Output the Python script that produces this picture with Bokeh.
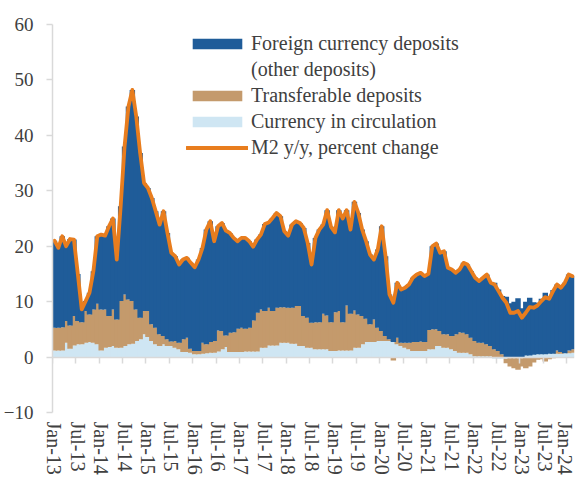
import numpy as np
from bokeh.plotting import figure
from bokeh.models import (LinearAxis, FixedTicker, Legend, LegendItem, Label,
                          Range1d, CustomJSTickFormatter)
from bokeh.embed import file_html
from bokeh.resources import INLINE

# ---------------- data (monthly, Jan-2013 .. Feb-2024) ----------------
tick_labels = ["Jan-13", "Jul-13", "Jan-14", "Jul-14", "Jan-15", "Jul-15", "Jan-16", "Jul-16",
               "Jan-17", "Jul-17", "Jan-18", "Jul-18", "Jan-19", "Jul-19", "Jan-20", "Jul-20",
               "Jan-21", "Jul-21", "Jan-22", "Jul-22", "Jan-23", "Jul-23", "Jan-24"]

currency = [1.2, 1.2, 1.2, 2.6, 1.5, 2.1, 2.3, 2.3, 2.6, 2.7, 2.6, 2.3, 1.2, 1.7, 1.8, 2.0, 1.7, 1.7, 2.0, 2.3,
            2.4, 2.9, 3.2, 4.1, 3.6, 2.9, 2.3, 2.0, 2.3, 2.0, 2.0, 1.7, 1.4,
            0.9, 0.9, 0.8, 0.5, 0.5, 0.6, 0.7, 0.8, 0.8, 1.0, 1.4, 1.8, 0.9, 0.9, 0.9, 0.9, 1.0, 1.0, 1.0, 1.0,
            1.7, 1.7, 2.1, 2.1, 2.1, 2.6, 2.6, 2.6, 2.4, 2.4, 2.0, 2.0,
            1.7, 1.7, 1.4, 1.4, 1.4, 1.4, 1.1, 1.1, 1.2, 1.2, 1.2, 1.2, 1.7, 1.7, 2.3, 2.7, 2.7, 2.7, 2.9, 2.9,
            2.9, 2.9, 2.7, 2.3, 2.0, 1.7, 1.4, 1.1, 1.1, 1.1, 1.1, 1.4, 1.4, 2.0,
            2.0, 1.7, 1.7, 1.4, 1.1, 0.8, 0.8, 0.8, 0.5, 0.15, 0.15, 0.15, 0.15, 0.15, -0.3, -0.3, -0.3, -0.3,
            -0.2, -0.2, -0.2, -0.2, 0.3, 0.3, 0.4, 0.5, 0.5, 0.5, 0.6, 0.6, 0.6, 0.6, 0.7, 0.7, 0.8]

transferable = [4.1, 4.1, 4.2, 3.9, 4.2, 5.3, 4.2, 4.0, 5.7, 5.0, 6.0, 7.3, 7.4, 6.9, 5.6, 6.6, 5.1, 8.4, 9.3, 8.1,
                7.7, 5.7, 3.9, 4.2, 4.7, 3.0, 3.0, 2.1, 1.5, 1.2, 0.8, 1.2, 1.2,
                2.3, 2.6, 0.7, 0.6, 0.6, 2.0, 1.6, 1.9, 2.1, 3.8, 3.3, 2.1, 3.5, 3.6, 4.2, 4.4, 4.1, 4.3, 5.6, 7.0,
                6.9, 6.6, 6.8, 6.2, 6.8, 6.4, 6.4, 6.3, 6.5, 6.8, 7.2, 5.4,
                5.4, 4.5, 4.9, 4.9, 6.4, 6.1, 5.2, 7.0, 7.1, 5.1, 8.1, 6.6, 6.7, 6.0, 5.1, 4.2, 3.2, 4.1, 2.4, 1.8,
                0.9, 0.3, -0.6, 1.2, 0.6, 0.9, 1.2, 1.6, 1.6, 1.7, 1.6, 3.5, 3.6, 3.0,
                2.7, 2.4, 2.4, 2.4, 3.0, 3.7, 3.6, 3.3, 3.0, 2.75, 2.45, 2.45, 2.15, 1.85, 1.4, 1.1, 0.5, -0.8,
                -1.5, -1.8, -2.1, -1.5, -2.0, -1.7, -1.0, -0.5, -0.4, -0.8, -0.4, -0.2, 0.6, 0.3, 0.0, 0.5, 0.6]

foreign = [15.7, 14.4, 16.4, 13.5, 15.6, 13.8, 8.5, 2.3, 1.8, 3.9, 6.9, 12.2, 13.5, 13.3, 16.2, 16.4, 10.8, 17.1,
           26.7, 34.8, 38.1, 34.8, 29.7, 23.1, 22.2, 22.8, 21.0, 19.8, 22.5, 19.2, 16.0, 15.3, 14.1,
           14.4, 14.4, 15.5, 15.1, 16.5, 17.1, 20.7, 21.8, 18.0, 18.8, 19.5, 18.9, 18.0, 17.0, 15.8, 16.2,
           16.4, 15.6, 13.3, 13.2, 13.5, 15.7, 15.4, 16.8, 17.1, 16.4, 13.7, 13.0, 15.0, 15.3, 15.0, 15.9,
           13.5, 10.5, 15.2, 16.7, 16.1, 19.0, 17.2, 14.4, 18.2, 18.7, 17.2, 15.2, 19.6, 18.3, 15.6, 14.0,
           12.6, 10.8, 14.1, 18.9, 14.4, 8.1, 7.7, 9.9, 9.6, 9.9, 10.5, 11.6, 12.2, 12.4, 11.9, 10.1, 15.0, 15.5,
           14.1, 15.0, 12.0, 12.0, 11.1, 11.3, 12.6, 12.6, 12.0, 11.4, 11.1, 11.7, 12.6, 11.4, 12.0, 11.1,
           10.5, 10.9, 9.7, 10.0, 10.6, 8.8, 9.7, 10.4, 9.5, 9.3, 10.0, 11.1, 10.3, 11.5, 11.9, 11.6, 12.7,
           13.7, 13.2]

m2 = [21.0, 19.7, 21.8, 20.0, 21.3, 21.2, 15.0, 8.6, 10.1, 11.6, 15.5, 21.8, 22.1, 21.9, 23.6, 25.0, 17.6, 27.2,
      38.0, 45.2, 48.2, 43.4, 36.8, 31.4, 30.5, 28.7, 26.3, 23.9, 26.3, 22.4, 18.8, 18.2, 16.7,
      17.6, 17.9, 17.0, 16.2, 17.6, 19.7, 23.0, 24.5, 20.9, 23.6, 24.2, 22.8, 22.4, 21.5, 20.9, 21.5,
      21.5, 20.9, 19.9, 21.2, 22.1, 24.0, 24.3, 25.1, 26.0, 25.4, 22.7, 21.9, 23.9, 24.5, 24.2, 23.3,
      20.6, 16.7, 21.5, 23.0, 23.9, 26.5, 23.5, 22.5, 26.5, 25.0, 26.5, 23.0, 28.0, 26.0, 23.0, 20.9,
      18.5, 17.6, 19.4, 23.6, 18.2, 11.3, 9.8, 13.4, 12.2, 12.5, 13.1, 14.3, 14.9, 15.2, 14.6, 15.0, 20.0, 20.5,
      18.8, 19.1, 16.1, 15.8, 15.2, 15.8, 17.0, 16.7, 15.5, 14.3, 13.7, 14.3, 14.9, 13.4, 13.1, 11.9,
      10.7, 9.8, 8.0, 8.0, 8.3, 7.1, 8.0, 9.0, 8.9, 9.3, 10.1, 10.8, 10.5, 11.9, 13.1, 12.5, 13.4, 14.9, 14.6]

# ---------------- styling ----------------
FONT = "Liberation Serif"
TXT = "#404040"
AXC = "#d9d9d9"
C_FX, C_TR, C_CU, C_M2 = "#1f5c99", "#c49a6c", "#cfe6f3", "#e87d1e"

n = len(m2)
idx = np.arange(n)

p = figure(width=575, height=477, output_backend="svg", toolbar_location=None,
           x_range=Range1d(-0.5, n - 0.5), y_range=Range1d(-10, 60),
           min_border_left=52, min_border_right=1, min_border_top=24, min_border_bottom=64,
           x_axis_location=None, y_axis_location=None)
p.outline_line_color = None
p.grid.visible = False
p.background_fill_color = "white"

# stacked bars (positives stack up, negatives stack down); slightly overlapping so no seams show
pos = np.zeros(n)
neg = np.zeros(n)
renderers = {}
for name, vals, col in [("cu", currency, C_CU), ("tr", transferable, C_TR), ("fx", foreign, C_FX)]:
    v = np.array(vals, dtype=float)
    bottom = np.where(v >= 0, pos, neg)
    top = bottom + v
    pos = np.where(v >= 0, top, pos)
    neg = np.where(v < 0, top, neg)
    renderers[name] = p.vbar(x=idx, width=1.4, bottom=bottom, top=top,
                             fill_color=col, line_color=None)

r_m2 = p.line(idx, m2, line_color=C_M2, line_width=3.8, line_join="round", line_cap="round")
r_blank = p.line(x=[], y=[], line_alpha=0)

# y axis
yax = LinearAxis(ticker=FixedTicker(ticks=list(range(-10, 61, 10))))
yax.axis_line_color = AXC
yax.axis_line_width = 1.5
yax.major_tick_line_color = AXC
yax.major_tick_line_width = 1.5
yax.major_tick_out = 6
yax.major_tick_in = 0
yax.minor_tick_out = 0
yax.major_label_standoff = 13
yax.major_label_text_font = FONT
yax.major_label_text_font_size = "19px"
yax.major_label_text_color = TXT
p.add_layout(yax, "left")

# zero line with ticks between half-years
zax = LinearAxis(fixed_location=0,
                 ticker=FixedTicker(ticks=[k * 6 - 0.5 for k in range(len(tick_labels))]),
                 formatter=CustomJSTickFormatter(code="return ''"))
zax.axis_line_color = AXC
zax.axis_line_width = 1.5
zax.major_tick_line_color = AXC
zax.major_tick_line_width = 1.5
zax.major_tick_out = 6
zax.major_tick_in = 0
zax.minor_tick_out = 0
p.add_layout(zax, "below")

# date labels under the plot
label_ticks = [k * 6 for k in range(len(tick_labels))]
xax = LinearAxis(ticker=FixedTicker(ticks=label_ticks))
xax.major_label_overrides = {t: lab for t, lab in zip(label_ticks, tick_labels)}
xax.major_label_orientation = "vertical"
xax.axis_line_color = None
xax.major_tick_line_color = None
xax.minor_tick_line_color = None
xax.major_tick_out = 0
xax.major_tick_in = 0
xax.major_label_standoff = 9
xax.major_label_text_font = FONT
xax.major_label_text_font_size = "20px"
xax.major_label_text_color = TXT
p.add_layout(xax, "below")

# legend
legend = Legend(items=[
    LegendItem(label="Foreign currency deposits", renderers=[renderers["fx"]]),
    LegendItem(label="(other deposits)", renderers=[r_blank]),
    LegendItem(label="Transferable deposits", renderers=[renderers["tr"]]),
    LegendItem(label="Currency in circulation", renderers=[renderers["cu"]]),
    LegendItem(label="M2 y/y, percent change", renderers=[r_m2]),
], location=(134, 253))
legend.label_text_font = FONT
legend.label_text_font_size = "20px"
legend.label_text_color = TXT
legend.glyph_width = 62
legend.glyph_height = 13
legend.label_standoff = 3
legend.label_height = 20
legend.spacing = 3
legend.padding = 0
legend.margin = 0
legend.border_line_alpha = 0
legend.background_fill_alpha = 0
p.add_layout(legend)

# title (cut off at the top edge, as in the original)
p.add_layout(Label(x=60, y=64.3, text="(percentage points)", text_font=FONT,
                   text_font_style="italic", text_font_size="22px", text_color=TXT,
                   text_align="center", text_baseline="alphabetic"))

open("out.html", "w").write(file_html(p, INLINE))
